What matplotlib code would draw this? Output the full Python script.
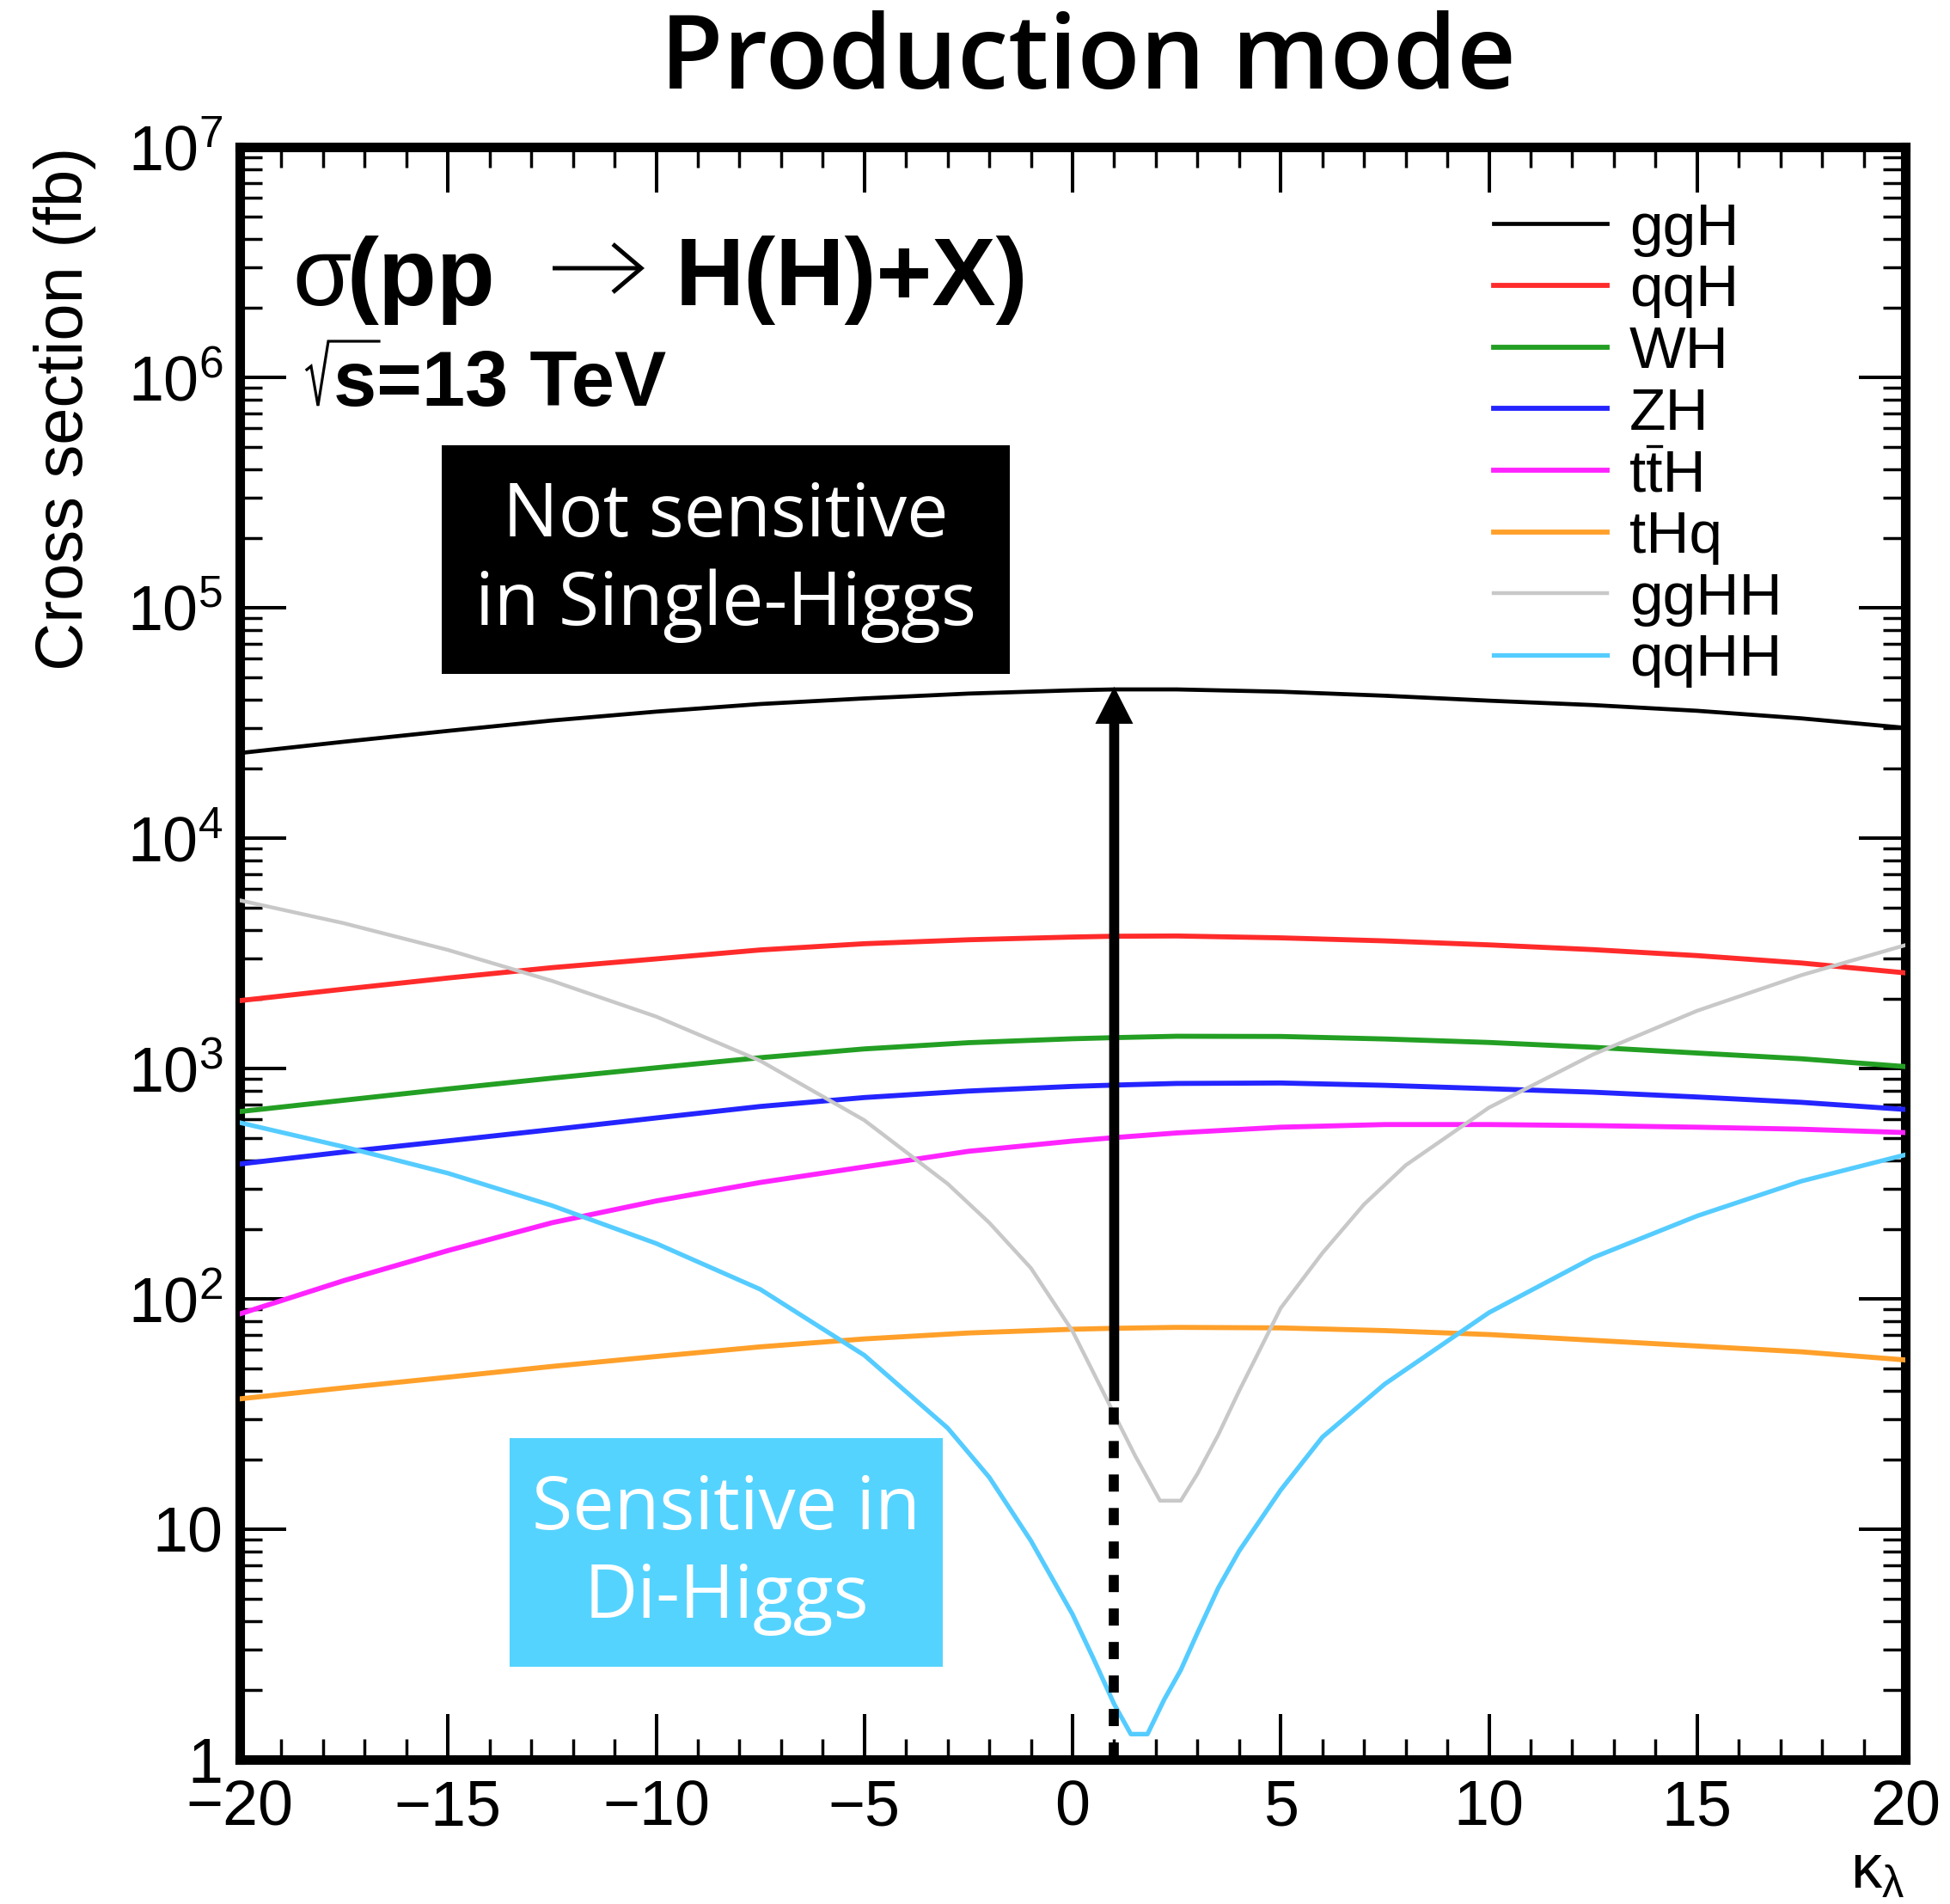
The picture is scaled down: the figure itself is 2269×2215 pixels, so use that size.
import matplotlib
matplotlib.use("Agg")
import matplotlib.pyplot as plt
from matplotlib.ticker import MultipleLocator, FixedLocator, FixedFormatter, NullFormatter, LogLocator
from matplotlib.patches import Rectangle
from matplotlib.lines import Line2D

plt.rcParams['font.family'] = ['Liberation Sans', 'DejaVu Sans']
plt.rcParams['mathtext.fontset'] = 'custom'
plt.rcParams['mathtext.rm'] = 'Liberation Sans'
plt.rcParams['mathtext.it'] = 'Liberation Sans:italic'
plt.rcParams['mathtext.bf'] = 'Liberation Sans:bold'

# ---------------- data (cross sections in fb) ----------------
kl = [-20, -17.5, -15, -12.5, -10, -7.5, -5, -2.5, 0, 1, 2.5, 5, 7.5, 10, 12.5, 15, 17.5, 20]
ggH = [23400, 26200, 29200, 32400, 35400, 38200, 40400, 42400, 43800, 44200, 44200, 43200,
       41500, 39500, 37800, 35700, 33100, 30100]
qqH = [1970, 2210, 2470, 2740, 2990, 3270, 3480, 3620, 3720, 3750, 3760, 3690,
       3580, 3440, 3280, 3090, 2870, 2600]
WH = [650, 728, 815, 908, 1007, 1114, 1216, 1294, 1346, 1361, 1380, 1377,
      1343, 1297, 1236, 1167, 1102, 1019]
ZH = [385, 434, 485, 543, 610, 684, 748, 798, 836, 847, 861, 865,
      845, 817, 789, 752, 713, 664]
ttH = [86, 120, 162, 214, 266, 320, 374, 437, 484, 501, 525, 556,
       571, 571, 565, 556, 545, 527]
tHq = [36.8, 41.1, 45.7, 50.9, 56.2, 61.9, 67.0, 71.1, 73.8, 74.5, 75.2, 74.8,
       72.8, 70.0, 66.1, 62.4, 58.9, 54.3]

kl_ggHH = [-20, -17.5, -15, -12.5, -10, -7.5, -5, -3, -2, -1, 0, 0.5, 1, 1.5, 2.1, 2.6,
           3, 3.5, 4, 5, 6, 7, 8, 10, 12.5, 15, 17.5, 20]
ggHH = [5370, 4270, 3270, 2400, 1680, 1080, 596, 316, 214, 136, 72.4, 47.9, 31.6, 20.9,
        13.3, 13.3, 17.4, 25.7, 39.8, 91.2, 158, 257, 380, 676, 1150, 1780, 2540, 3430]

kl_qqHH = [-20, -17.5, -15, -12.5, -10, -7.5, -5, -3, -2, -1, 0, 0.5, 1, 1.4, 1.8, 2.2,
           2.6, 3, 3.5, 4, 5, 6, 7.5, 10, 12.5, 15, 17.5, 20]
qqHH = [582, 457, 351, 254, 174, 110, 56.9, 27.5, 16.8, 8.91, 4.27, 2.75, 1.74, 1.29, 1.29,
        1.82, 2.45, 3.55, 5.56, 8.04, 14.8, 25.1, 42.7, 87.1, 151, 229, 324, 422]

labels = ['ggH', 'qqH', 'WH', 'ZH', 'ttH', 'tHq', 'ggHH', 'qqHH']   # ttH: second t gets a bar
colors = ['#000000', '#ff2b2b', '#239f23', '#2424ff', '#ff24ff', '#ffa02a', '#c8c8c8', '#55ccff']

x_ticks = [-20, -15, -10, -5, 0, 5, 10, 15, 20]
y_ticks = [1, 10, 1e2, 1e3, 1e4, 1e5, 1e6, 1e7]
y_ticklabels = ['1', '10', r'$10^{2}$', r'$10^{3}$', r'$10^{4}$', r'$10^{5}$', r'$10^{6}$', r'$10^{7}$']

kl_SM = 1.0          # position of the SM arrow
arrow_top = 45400    # arrow tip (at ggH)
arrow_split = 36     # where the solid arrow turns into the dashed line

# ---------------- figure ----------------
W, H = 2269, 2215
fig = plt.figure(figsize=(W / 100, H / 100), dpi=100)
ax = fig.add_axes([279 / W, 1 - 2047 / H, 1938 / W, 1876 / H])


def fx(px):
    return px / W


def fy(py):
    return 1 - py / H


series = [(kl, ggH), (kl, qqH), (kl, WH), (kl, ZH), (kl, ttH), (kl, tHq),
          (kl_ggHH, ggHH), (kl_qqHH, qqHH)]
widths = [3.4, 4.2, 4.2, 4.2, 4.2, 4.2, 3.2, 3.8]
handles = []
for (xs, ys), c, lw, lab in zip(series, colors, widths, labels):
    ln, = ax.plot(xs, ys, color=c, lw=lw, solid_joinstyle='round', label=lab, zorder=3)
    handles.append(ln)

ax.set_yscale('log')
ax.set_xlim(-20, 20)
ax.set_ylim(1, 1e7)

ax.xaxis.set_major_locator(FixedLocator(x_ticks))
ax.xaxis.set_minor_locator(MultipleLocator(1))
ax.yaxis.set_major_locator(FixedLocator(y_ticks))
ax.yaxis.set_major_formatter(FixedFormatter(y_ticklabels))
ax.yaxis.set_minor_locator(LogLocator(base=10, subs=range(2, 10), numticks=50))
ax.yaxis.set_minor_formatter(NullFormatter())

for s in ax.spines.values():
    s.set_linewidth(8)
ax.tick_params(axis='both', which='both', direction='in', top=True, right=True, colors='black')
ax.tick_params(axis='x', which='major', length=38, width=2.9, labelsize=53, pad=16)
ax.tick_params(axis='x', which='minor', length=17, width=2.5)
ax.tick_params(axis='y', which='major', length=39, width=2.9, labelsize=53, pad=14)
ax.tick_params(axis='y', which='minor', length=19, width=2.5)

ax.set_ylabel('Cross section (fb)', fontsize=56, loc='top')
ax.yaxis.set_label_coords(-0.086, 1.0)

fig.text(fx(2217), fy(2178), r'$\mathrm{\kappa_{\lambda}}$', fontsize=52, ha='right', va='center')

# legend
LEG_FS = 50
leg = ax.legend(handles, labels, loc='upper left', bbox_to_anchor=(0.7528, 0.966),
                frameon=False, fontsize=LEG_FS, handlelength=1.9, handletextpad=0.375,
                labelspacing=0.11, borderpad=0, borderaxespad=0)

# arrow at the SM point and dashed continuation
ax.annotate('', xy=(kl_SM, arrow_top), xytext=(kl_SM, arrow_split),
            arrowprops=dict(width=8.4, headwidth=31.7, headlength=31, facecolor='black',
                            edgecolor='none', lw=0, shrink=0), zorder=6)
ax.plot([kl_SM, kl_SM], [1, arrow_split], color='black', lw=8.4,
        ls=(0, (1.71, 1.63)), solid_capstyle='butt', dash_capstyle='butt', zorder=6)

# title
fig.text(fx(1266), fy(72), 'Production mode', fontsize=86, ha='center', va='center',
         family=['Open Sans', 'DejaVu Sans'], weight='semibold')

# sigma(pp -> H(H)+X)
base1 = 355
fig.text(fx(340), fy(base1), 'σ', fontsize=80, ha='left', va='baseline')
fig.text(fx(403), fy(base1), '(pp', fontsize=80, weight='bold', ha='left', va='baseline')
ax.annotate('', xy=(750, H - 312), xytext=(643, H - 312), xycoords='figure pixels',
            textcoords='figure pixels',
            arrowprops=dict(arrowstyle='->,head_length=0.66,head_width=0.56', lw=3.6,
                            color='black', mutation_scale=36, shrinkA=0, shrinkB=0,
                            joinstyle='miter', capstyle='butt'))
fig.text(fx(786), fy(base1), 'H(H)+X)', fontsize=80, weight='bold', ha='left', va='baseline')

# sqrt(s)=13 TeV  (radical drawn as thin strokes)
base2 = 472
rad_x = [357, 362, 370, 382, 441]
rad_y = [430, 426, 472, 397, 397]
fig.add_artist(Line2D([fx(v) for v in rad_x], [fy(v) for v in rad_y], transform=fig.transFigure,
                      color='black', lw=2.3, solid_joinstyle='miter'))
fig.text(fx(388), fy(base2), 's=13 TeV', fontsize=65, weight='bold', ha='left', va='baseline')

# annotation boxes
fig.add_artist(Rectangle((fx(514), fy(784)), 661 / W, 266 / H, transform=fig.transFigure,
                         facecolor='black', edgecolor='none', zorder=8))
fig.text(fx(844.5), fy(653), 'Not sensitive\nin Single-Higgs', fontsize=62, color='white',
         ha='center', va='center', linespacing=1.25, family=['Open Sans', 'DejaVu Sans'], zorder=9)
fig.add_artist(Rectangle((fx(593), fy(1939)), 504 / W, 266 / H, transform=fig.transFigure,
                         facecolor='#55d3ff', edgecolor='none', zorder=8))
fig.text(fx(845), fy(1808), 'Sensitive in\nDi-Higgs', fontsize=62, color='white',
         ha='center', va='center', linespacing=1.25, family=['Open Sans', 'DejaVu Sans'], zorder=9)

# anti-top bar over the second "t" of the ttH legend label
fig.canvas.draw()
renderer = fig.canvas.get_renderer()
tt_text = leg.get_texts()[4]
bx, by = tt_text.get_transform().transform((0, 0))      # baseline anchor (display px)
probe = fig.text(0, 0, 't', fontsize=LEG_FS)
t_w = probe.get_window_extent(renderer).width
probe.remove()
em = LEG_FS * 100 / 72
bar_y = by + 0.76 * em
fig.add_artist(Line2D([(bx + t_w + 0.08 * t_w) / W, (bx + 2 * t_w - 0.08 * t_w) / W],
                      [bar_y / H, bar_y / H], transform=fig.transFigure, color='black', lw=2.4))

fig.savefig('out.png', dpi=100)
